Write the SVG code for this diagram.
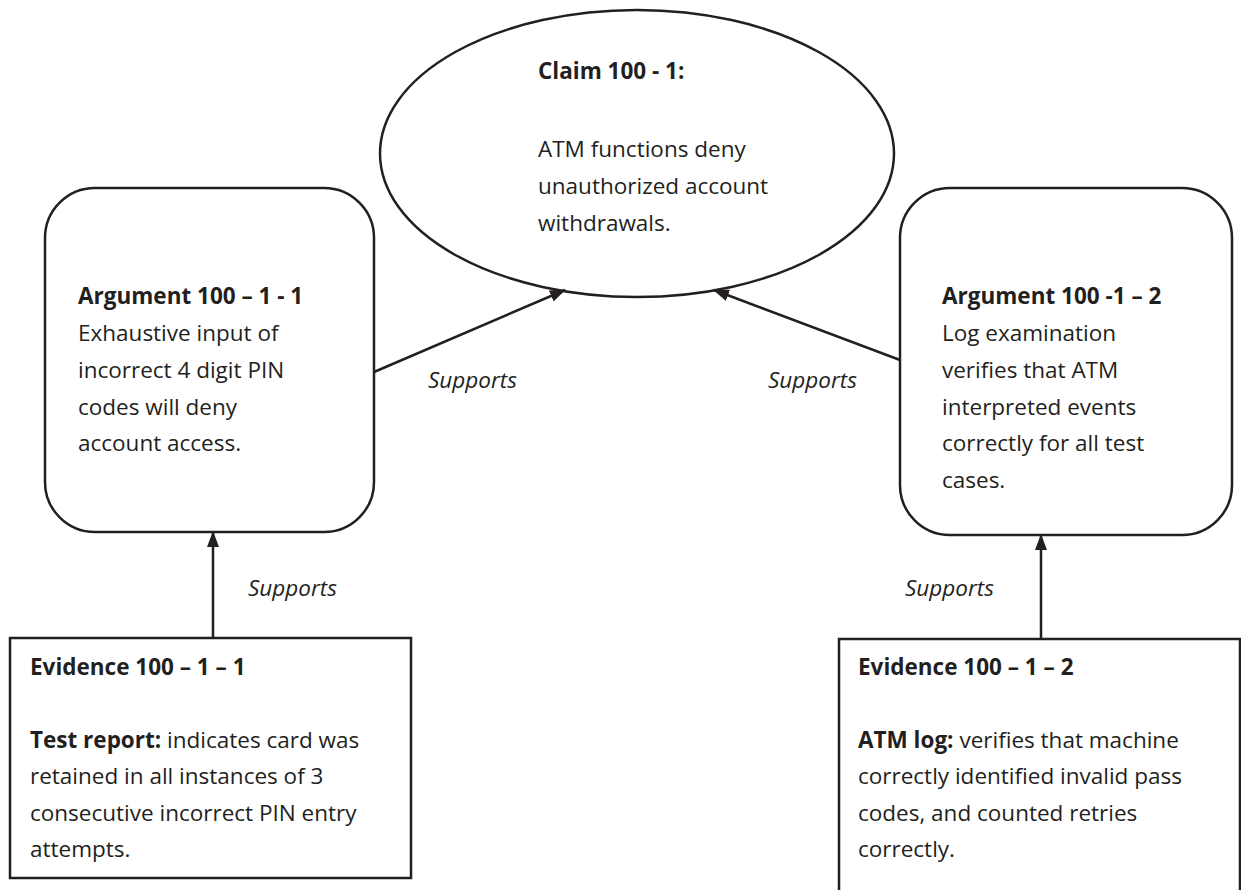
<svg xmlns="http://www.w3.org/2000/svg" width="1241" height="890" viewBox="0 0 1241 890">
<style>
.shape{fill:#ffffff;stroke:#231f20;stroke-width:2.5}
.t{font-family:"Open Sans","Liberation Sans",sans-serif;font-size:22.5px;fill:#231f20}
.b{font-weight:bold}
.lbl{font-family:"Open Sans","Liberation Sans",sans-serif;font-size:22.5px;font-style:italic;fill:#231f20}
.conn{stroke:#231f20;stroke-width:2.5;fill:none}
</style>
<defs>
<marker id="arrow" markerUnits="userSpaceOnUse" markerWidth="16" markerHeight="12" refX="15" refY="6" orient="auto">
<path d="M0,0 L16,6 L0,12 z" fill="#231f20"/>
</marker>
</defs>
<rect width="1241" height="890" fill="#ffffff"/>
<g id="claim">
<ellipse class="shape" cx="637" cy="153.5" rx="257" ry="143.5"/>
<text class="t b" x="538" y="79">Claim 100 - 1:</text>
<text class="t" x="538" y="157">ATM functions deny</text>
<text class="t" x="538" y="194">unauthorized account</text>
<text class="t" x="538" y="231">withdrawals.</text>
</g>
<g id="argument1">
<rect class="shape" x="45" y="188" width="329" height="344" rx="50" ry="50"/>
<text class="t b" x="78" y="304">Argument 100 – 1 - 1</text>
<text class="t" x="78" y="341">Exhaustive input of</text>
<text class="t" x="78" y="378">incorrect 4 digit PIN</text>
<text class="t" x="78" y="415">codes will deny</text>
<text class="t" x="78" y="451">account access.</text>
</g>
<g id="argument2">
<rect class="shape" x="900" y="188" width="332" height="347" rx="50" ry="50"/>
<text class="t b" x="942" y="304">Argument 100 -1 – 2</text>
<text class="t" x="942" y="341">Log examination</text>
<text class="t" x="942" y="378">verifies that ATM</text>
<text class="t" x="942" y="415">interpreted events</text>
<text class="t" x="942" y="451">correctly for all test</text>
<text class="t" x="942" y="488">cases.</text>
</g>
<g id="evidence1">
<rect class="shape" x="10" y="638" width="401" height="240"/>
<text class="t b" x="30" y="675">Evidence 100 – 1 – 1</text>
<text class="t" x="30" y="748"><tspan class="b">Test report:</tspan> indicates card was</text>
<text class="t" x="30" y="784">retained in all instances of 3</text>
<text class="t" x="30" y="821">consecutive incorrect PIN entry</text>
<text class="t" x="30" y="857">attempts.</text>
</g>
<g id="evidence2">
<rect class="shape" x="839" y="639" width="401" height="270"/>
<text class="t b" x="858" y="675">Evidence 100 – 1 – 2</text>
<text class="t" x="858" y="748"><tspan class="b">ATM log:</tspan> verifies that machine</text>
<text class="t" x="858" y="784">correctly identified invalid pass</text>
<text class="t" x="858" y="821">codes, and counted retries</text>
<text class="t" x="858" y="857">correctly.</text>
</g>
<g id="connectors">
<line class="conn" x1="374" y1="372" x2="565" y2="290" marker-end="url(#arrow)"/>
<line class="conn" x1="900" y1="360" x2="714" y2="290" marker-end="url(#arrow)"/>
<line class="conn" x1="213" y1="638" x2="213" y2="532" marker-end="url(#arrow)"/>
<line class="conn" x1="1041" y1="639" x2="1041" y2="535" marker-end="url(#arrow)"/>
<text class="lbl" x="428" y="388">Supports</text>
<text class="lbl" x="768" y="388">Supports</text>
<text class="lbl" x="248" y="596">Supports</text>
<text class="lbl" x="905" y="596">Supports</text>
</g>
</svg>
